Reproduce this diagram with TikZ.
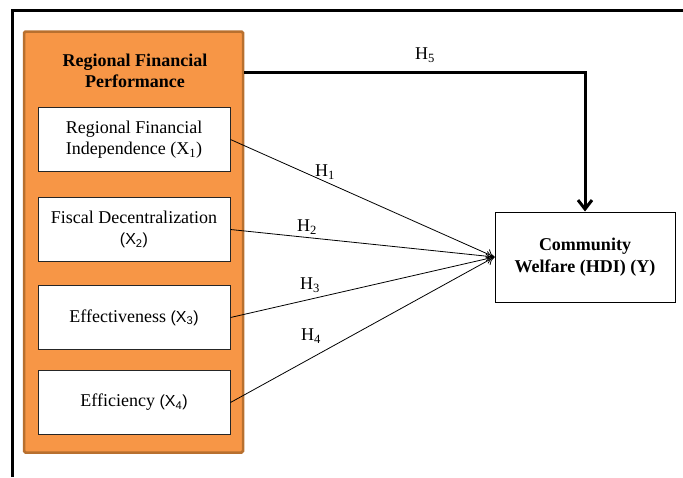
\documentclass[tikz,border=0pt]{standalone}
\usepackage{fontspec}
\setmainfont{Liberation Serif}
\newfontfamily\xsans{Liberation Sans}
\usetikzlibrary{arrows.meta}
\definecolor{perforange}{HTML}{F79646}
\definecolor{perfedge}{HTML}{B8702F}
\tikzset{
	varbox/.style={draw=black!85, fill=white, line width=1pt, minimum width=192pt, minimum height=64pt, align=center, inner sep=0pt},
	hyp/.style={-{To[length=8pt,width=10pt]}, line width=0.8pt},
	hlabel/.style={inner sep=0pt}
}
\newcommand{\xvar}[1]{{\xsans\fontsize{16}{18}\selectfont(X\textsubscript{#1})}}
\begin{document}
\fontsize{18}{21.5}\selectfont
\begin{tikzpicture}[x=1pt, y=-1pt]
		\useasboundingbox (0,0) rectangle (683,477);
		% Outer frame
		\draw[line width=3pt] (12,477) -- (12,10) -- (683,10);

		% Regional financial performance block
		\node[draw=perfedge, fill=perforange, line width=2.5pt, rounded corners=1.5pt, minimum width=219pt, minimum height=421pt, inner sep=0pt] (perf) at (133.5,242) {};
		\node[font=\bfseries, align=center] (title) at (135,71) {Regional Financial\\Performance};

		% Variables X1..X4
		\node[varbox] (x1) at (134,139.5) {Regional Financial\\Independence (X\textsubscript{1})};
		\node[varbox] (x2) at (134,229.5) {Fiscal Decentralization\\\xvar{2}};
		\node[varbox] (x3) at (134,317.5) {Effectiveness \xvar{3}};
		\node[varbox] (x4) at (134,402.5) {Efficiency \xvar{4}};

		% Community welfare
		\node[draw=black, fill=white, line width=1pt, minimum width=180pt, minimum height=90pt, align=center, inner sep=0pt, font=\bfseries] (y) at (585,257) {Community\\Welfare (HDI) (Y)};

		% Hypotheses
		\draw[hyp] (x1.east) -- (y.west);
		\draw[hyp] (x2.east) -- (y.west);
		\draw[hyp] (x3.east) -- (y.west);
		\draw[hyp] (x4.east) -- (y.west);
		\coordinate (c5) at (perf.east |- 0,72);
		\draw[line width=3pt, -{Straight Barb[length=9pt,width=14pt,line width=3pt]}] (c5) -| (y.north);

		\node[hlabel] (h1) at (325,172) {H\textsubscript{1}};
		\node[hlabel] (h2) at (307,227) {H\textsubscript{2}};
		\node[hlabel] (h3) at (310,285) {H\textsubscript{3}};
		\node[hlabel] (h4) at (311,336) {H\textsubscript{4}};
		\node[hlabel] (h5) at (425,55) {H\textsubscript{5}};
	\end{tikzpicture}
\end{document}
